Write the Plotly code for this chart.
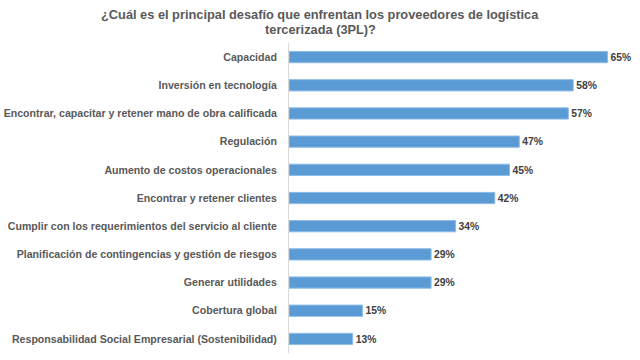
import plotly.graph_objects as go

categories = [
    "Capacidad",
    "Inversión en tecnología",
    "Encontrar, capacitar y retener mano de obra calificada",
    "Regulación",
    "Aumento de costos operacionales",
    "Encontrar y retener clientes",
    "Cumplir con los requerimientos del servicio al cliente",
    "Planificación de contingencias y gestión de riesgos",
    "Generar utilidades",
    "Cobertura global",
    "Responsabilidad Social Empresarial (Sostenibilidad)",
]
values = [65, 58, 57, 47, 45, 42, 34, 29, 29, 15, 13]
title_lines = [
    "¿Cuál es el principal desafío que enfrentan los proveedores de logística",
    "tercerizada (3PL)?",
]

FONT = "Liberation Sans, Arial"
L, R, T, B = 289, 8, 43, 7
W, H = 640, 360
H_PLOT = H - T - B
W_PLOT = W - L - R

fig = go.Figure(go.Bar(
    x=values,
    y=categories,
    orientation="h",
    marker=dict(color="#5B9BD5", line=dict(color="#8FBCE6", width=1)),
    text=[f"{v}%" for v in values],
    textposition="outside",
    textfont=dict(family=FONT, size=11, color="#404040", weight="bold"),
    cliponaxis=False,
))

annos = []
for line, ypx in zip(title_lines, [14, 30]):
    annos.append(dict(
        text="<b>" + line + "</b>",
        xref="paper", yref="paper",
        x=(320 - L) / W_PLOT, xanchor="center",
        y=(H - B - ypx) / H_PLOT, yanchor="middle",
        showarrow=False,
        font=dict(family=FONT, size=12.8, color="#595959"),
    ))

fig.update_layout(
    width=W, height=H,
    margin=dict(l=L, r=R, t=T, b=B, autoexpand=False),
    paper_bgcolor="white", plot_bgcolor="white",
    font=dict(family=FONT, color="#404040"),
    annotations=annos,
    bargap=0.6,
    showlegend=False,
)
fig.update_xaxes(range=[0, 70], visible=False)
fig.update_yaxes(
    autorange="reversed", automargin=False,
    showline=True, linecolor="#D9D9D9", linewidth=1,
    ticks="", ticklabelstandoff=9,
    tickfont=dict(family=FONT, size=10.6, color="#595959", weight="bold"),
)

fig.write_html(
    "out.html",
    config={"displayModeBar": False},
    post_script="document.body.style.margin='0';",
)
